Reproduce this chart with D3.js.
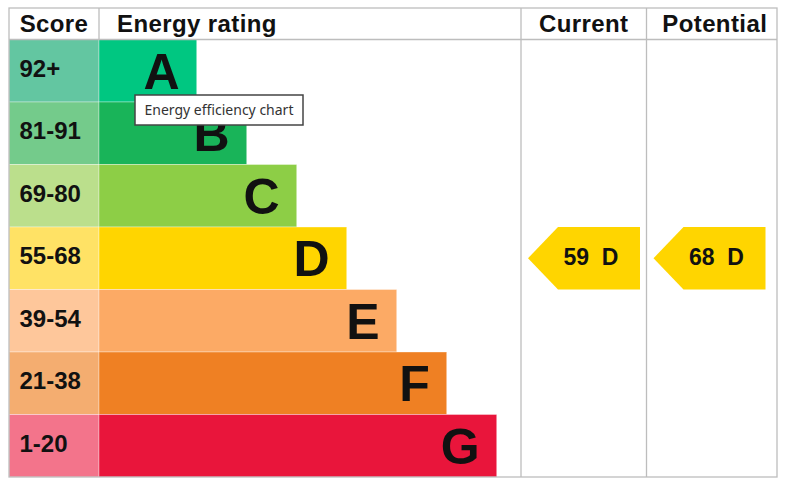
<!DOCTYPE html>
<html>
<head>
<meta charset="utf-8">
<script src="https://cdn.jsdelivr.net/npm/d3@7"></script>
<style>
  body { margin: 0; background: #fff; }
  svg { display: block; font-family: "Liberation Sans", Arial, sans-serif; }
</style>
</head>
<body>
<script>
const bands = ['A', 'B', 'C', 'D', 'E', 'F', 'G'];
const scoreRanges = ['92+', '81-91', '69-80', '55-68', '39-54', '21-38', '1-20'];
const barColors = ['#00c781', '#19b459', '#8dce46', '#ffd500', '#fcaa65', '#ef8023', '#e9153b'];
const scoreColors = ['#63c6a1', '#74cb8b', '#bbdf8c', '#ffe265', '#fec79b', '#f4ad70', '#f3748b'];
const ratings = [
  { column: 'Current', score: 59, band: 'D' },
  { column: 'Potential', score: 68, band: 'D' }
];
const headers = ['Score', 'Energy rating', 'Current', 'Potential'];

const width = 785, height = 483;
const frame = { left: 9, top: 8, right: 777, bottom: 477, header: 39.5 };
const scoreRight = 99, currentLeft = 521, potentialLeft = 646.5;
const grid = '#bdbdbd';

const svg = d3.select('body')
  .append('svg')
  .attr('width', width)
  .attr('height', height);

const y = d3.scaleBand()
  .domain(bands)
  .range([frame.header, frame.bottom]);

// bar end grows by band rank
const x = d3.scaleLinear()
  .domain([0, bands.length - 1])
  .range([196.7, 496.7]);

const columns = d3.scaleOrdinal()
  .domain(['Current', 'Potential'])
  .range([currentLeft, potentialLeft]);

// score cells
svg.append('g').selectAll('rect')
  .data(bands)
  .join('rect')
  .attr('x', frame.left)
  .attr('y', d => y(d))
  .attr('width', scoreRight - frame.left)
  .attr('height', y.bandwidth())
  .attr('fill', (d, i) => scoreColors[i])
  .attr('stroke', 'rgba(255,255,255,0.35)')
  .attr('stroke-width', 1);

svg.append('g').selectAll('text')
  .data(bands)
  .join('text')
  .attr('x', 19.5)
  .attr('y', d => y(d) + y.bandwidth() / 2 - 2.5)
  .attr('dy', '0.36em')
  .attr('font-size', 24)
  .attr('font-weight', 'bold')
  .attr('fill', '#111')
  .text((d, i) => scoreRanges[i]);

// rating bars
svg.append('g').selectAll('rect')
  .data(bands)
  .join('rect')
  .attr('x', scoreRight)
  .attr('y', d => y(d))
  .attr('width', (d, i) => x(i) - scoreRight)
  .attr('height', y.bandwidth())
  .attr('fill', (d, i) => barColors[i])
  .attr('stroke', 'rgba(255,255,255,0.35)')
  .attr('stroke-width', 1);

svg.append('g').selectAll('text')
  .data(bands)
  .join('text')
  .attr('x', (d, i) => x(i) - 17)
  .attr('y', d => y(d) + y.bandwidth() / 2)
  .attr('dy', '0.36em')
  .attr('text-anchor', 'end')
  .attr('font-size', 50)
  .attr('font-weight', 'bold')
  .attr('fill', '#111')
  .text(d => d);

// grid lines
const lines = svg.append('g')
  .attr('stroke', grid)
  .attr('stroke-width', 1.3)
  .attr('fill', 'none');

lines.append('rect')
  .attr('x', frame.left)
  .attr('y', frame.top)
  .attr('width', frame.right - frame.left)
  .attr('height', frame.bottom - frame.top);

lines.append('line')
  .attr('x1', frame.left).attr('x2', frame.right)
  .attr('y1', frame.header).attr('y2', frame.header);

lines.append('line')
  .attr('x1', scoreRight).attr('x2', scoreRight)
  .attr('y1', frame.top).attr('y2', frame.header);

[currentLeft, potentialLeft].forEach(cx => {
  lines.append('line')
    .attr('x1', cx).attr('x2', cx)
    .attr('y1', frame.top).attr('y2', frame.bottom);
});

// header text
const headerX = [
  { x: (frame.left + scoreRight) / 2, anchor: 'middle' },
  { x: 117, anchor: 'start' },
  { x: (currentLeft + potentialLeft) / 2, anchor: 'middle' },
  { x: (potentialLeft + frame.right) / 2 + 3, anchor: 'middle' }
];

svg.append('g').selectAll('text')
  .data(headers)
  .join('text')
  .attr('x', (d, i) => headerX[i].x)
  .attr('y', (frame.top + frame.header) / 2)
  .attr('dy', '0.36em')
  .attr('text-anchor', (d, i) => headerX[i].anchor)
  .attr('font-size', 24)
  .attr('letter-spacing', 0.4)
  .attr('font-weight', 'bold')
  .attr('fill', '#111')
  .text(d => d);

// rating arrows
const arrowTip = 7, arrowNotch = 37, arrowEnd = 119;
const arrows = svg.append('g').selectAll('g')
  .data(ratings)
  .join('g')
  .attr('transform', d => `translate(${columns(d.column)},${y(d.band)})`);

arrows.append('path')
  .attr('fill', d => barColors[bands.indexOf(d.band)])
  .attr('d', () => {
    const h = y.bandwidth();
    return `M${arrowTip},${h / 2}L${arrowNotch},0L${arrowEnd},0L${arrowEnd},${h}L${arrowNotch},${h}Z`;
  });

arrows.append('text')
  .attr('x', (arrowNotch + arrowEnd) / 2 - 8)
  .attr('y', y.bandwidth() / 2 - 1.5)
  .attr('dy', '0.36em')
  .attr('text-anchor', 'middle')
  .attr('font-size', 23)
  .attr('font-weight', 'bold')
  .attr('fill', '#111')
  .attr('xml:space', 'preserve')
  .text(d => d.score + '  ' + d.band);

// tooltip box
const tooltip = svg.append('g').attr('transform', 'translate(135,95)');
tooltip.append('rect')
  .attr('width', 168)
  .attr('height', 30)
  .attr('fill', '#fff')
  .attr('stroke', '#444')
  .attr('stroke-width', 1.5);
tooltip.append('text')
  .attr('x', 9.5)
  .attr('y', 15)
  .attr('dy', '0.36em')
  .attr('font-family', '"Noto Sans", "Open Sans", sans-serif')
  .attr('font-size', 14)
  .attr('fill', '#333')
  .text('Energy efficiency chart');
</script>
</body>
</html>
